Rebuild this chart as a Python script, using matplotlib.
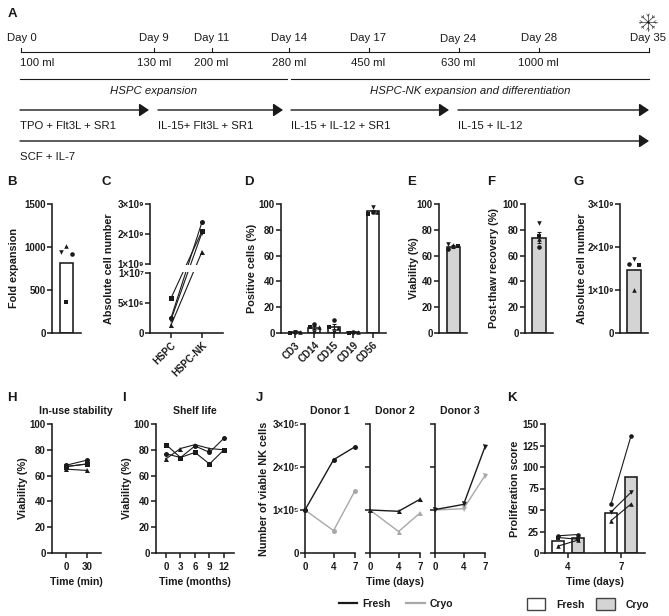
import numpy as np
from matplotlib import pyplot as plt
from matplotlib.lines import Line2D
from matplotlib.patches import Patch

W, H = 669, 616
DARK = '#1a1a1a'
GREY_BAR = '#d4d4d4'
GREY_LINE = '#a8a8a8'

plt.rcParams['font.family'] = ['Liberation Sans', 'DejaVu Sans']
plt.rcParams['font.size'] = 8
plt.rcParams['text.color'] = DARK
plt.rcParams['axes.labelcolor'] = DARK
plt.rcParams['xtick.color'] = DARK
plt.rcParams['ytick.color'] = DARK

# A: culture timeline
days = ['Day 0', 'Day 9', 'Day 11', 'Day 14', 'Day 17', 'Day 24', 'Day 28', 'Day 35']
volumes = ['100 ml', '130 ml', '200 ml', '280 ml', '450 ml', '630 ml', '1000 ml']
stage_labels = ['HSPC expansion', 'HSPC-NK expansion and differentiation']
cocktails = ['TPO + Flt3L + SR1', 'IL-15+ Flt3L + SR1', 'IL-15 + IL-12 + SR1', 'IL-15 + IL-12']
base_cocktail = 'SCF + IL-7'

# B
b_mean = 810
b_points = {'o': 920, 's': 365, '^': 1010, 'v': 945}

# C
c_groups = ['HSPC', 'HSPC-NK']
c_hspc = {'s': 5.8e6, 'o': 2.5e6, 'v': 2.2e6, '^': 1.3e6}
c_nk = {'s': 2.1e9, 'o': 2.4e9, 'v': 2.05e9, '^': 1.41e9}

# D
d_markers = ['CD3', 'CD14', 'CD15', 'CD19', 'CD56']
d_means = [0.5, 4.2, 5.0, 0.4, 94.2]
d_err = [0.2, 1.3, 2.0, 0.2, 1.2]
d_points = [
    {'o': 0.5, 's': 0.3, '^': 0.6, 'v': 0.4},
    {'o': 7.2, 's': 5.0, '^': 4.5, 'v': 0.5},
    {'o': 9.8, 's': 5.0, '^': 4.0, 'v': 0.5},
    {'o': 0.4, 's': 0.3, '^': 0.5, 'v': 0.3},
    {'o': 94.0, 's': 92.0, '^': 94.0, 'v': 97.4},
]

# E, F, G
e_mean, e_err = 67, 1.0
e_points = {'o': 65.5, 's': 67.5, '^': 68, 'v': 69}
f_mean, f_err = 74, 4.0
f_points = {'o': 67, 's': 75, '^': 73, 'v': 85}
g_mean = 1.47e9
g_points = {'o': 1.6e9, 's': 1.58e9, '^': 1.0e9, 'v': 1.72e9}

# H
h_minutes = [0, 30]
h_series = {'o': [68, 72], 's': [67, 69], 'v': [67, 69], '^': [65, 64]}

# I
i_months = [0, 3, 6, 9, 12]
i_series = {
    's': [84, 74, 78, 69, 80],
    'o': [77, 74, 83, 78, 89],
    '^': [73, 81, 84, 81, 80],
}

# J
j_days = [0, 4, 7]
j_donors = ['Donor 1', 'Donor 2', 'Donor 3']
j_symbols = ['o', '^', 'v']
j_fresh = [[1.0e5, 2.17e5, 2.47e5], [1.0e5, 0.97e5, 1.25e5], [1.01e5, 1.13e5, 2.47e5]]
j_cryo = [[1.0e5, 0.52e5, 1.45e5], [1.0e5, 0.50e5, 0.93e5], [1.0e5, 1.03e5, 1.80e5]]

# K
k_days = ['4', '7']
k_fresh_means = [14, 47]
k_cryo_means = [17, 88]
k_fresh = [{'o': 20, 's': 18, '^': 8}, {'o': 57, 'v': 47.7, '^': 37.6}]
k_cryo = [{'o': 21.5, 's': 16, '^': 15}, {'o': 136, 'v': 70.5, '^': 57}]

fig = plt.figure(figsize=(W / 100, H / 100), dpi=100)


def make_axes(left, right, top, bottom):
    ax = fig.add_axes([left / W, 1 - bottom / H, (right - left) / W, (bottom - top) / H])
    ax.spines[['top', 'right']].set_visible(False)
    ax.spines[['left', 'bottom']].set_linewidth(1.15)
    ax.spines[['left', 'bottom']].set_color(DARK)
    ax.tick_params(width=1.1, length=3.6, pad=0.8, labelsize=7)
    ax.tick_params(axis='x', pad=3)
    ax.patch.set_alpha(0)
    ax.px = (left, right)
    return ax


def bold_ticks(ax):
    for lab in ax.get_xticklabels() + ax.get_yticklabels():
        lab.set_fontweight('bold')


def set_ylabel(ax, text, px_center):
    ax.set_ylabel(text, fontsize=7.8, fontweight='bold')
    left, right = ax.px
    ax.yaxis.set_label_coords((px_center + 8 - left) / (right - left), 0.5)
    bold_ticks(ax)


def scatter_points(ax, x, points, offsets=None):
    for m, val in points.items():
        dx = offsets[m] if offsets else 0
        ax.plot(x + dx, val, m, color=DARK, ms=3.3, mew=0, clip_on=False, zorder=5)


def draw_panel_letter(letter, x, y):
    fig.text(x / W, 1 - y / H, letter, fontsize=9.5, fontweight='bold', ha='left', va='center')


def draw_timeline():
    ov = fig.add_axes([0, 0, 1, 1])
    ov.set_xlim(0, W)
    ov.set_ylim(H, 0)
    ov.axis('off')
    ov.patch.set_alpha(0)

    tick_x = [20.5, 154, 211.5, 289, 368.5, 458.5, 539, 648.5]
    ov.plot([tick_x[0], tick_x[-1]], [52, 52], color=DARK, lw=0.8)
    for i, (x, lab) in enumerate(zip(tick_x, days)):
        ov.plot([x, x], [48, 52], color=DARK, lw=0.8)
        tx = 22 if i == 0 else x
        ty = 39.5 if lab == 'Day 24' else 38
        ov.text(tx, ty, lab, ha='center', va='center', fontsize=8.2)
    vol_x = [37.5, 154, 211.5, 289, 368.5, 458, 538]
    for x, lab in zip(vol_x, volumes):
        ov.text(x, 63.5, lab, ha='center', va='center', fontsize=8.2)

    ov.plot([20, 287], [79, 79], color=DARK, lw=0.8)
    ov.plot([291, 649], [79, 79], color=DARK, lw=0.8)
    ov.text(154, 90.5, stage_labels[0], ha='center', va='center', style='italic', fontsize=8.2)
    ov.text(470, 90.5, stage_labels[1], ha='center', va='center', style='italic', fontsize=8.2)

    spans = [(20, 149), (158, 283), (291, 449), (458, 649)]
    style = '-|>,head_length=0.45,head_width=0.3'
    for (x0, x1), lab in zip(spans, cocktails):
        ov.annotate('', xy=(x1, 110), xytext=(x0, 110),
                    arrowprops=dict(arrowstyle=style, color=DARK, lw=1.0,
                                    mutation_scale=13, shrinkA=0, shrinkB=0))
        ov.text(x0, 126, lab, ha='left', va='center', fontsize=8.2)
    ov.annotate('', xy=(649, 141), xytext=(20, 141),
                arrowprops=dict(arrowstyle=style, color=DARK, lw=1.0,
                                mutation_scale=13, shrinkA=0, shrinkB=0))
    ov.text(20, 157, base_cocktail, ha='left', va='center', fontsize=8.2)

    # snowflake
    cx, cy = 648, 22
    for ang in np.arange(0, 360, 45):
        ca, sa = np.cos(np.radians(ang)), np.sin(np.radians(ang))
        ov.plot([cx, cx + 9 * ca], [cy, cy + 8.5 * sa], color='#333333', lw=0.5)
        for side in (-35, 35):
            cb, sb = np.cos(np.radians(ang + side)), np.sin(np.radians(ang + side))
            ov.plot([cx + 6 * ca, cx + 6 * ca + 2.5 * cb], [cy + 6 * sa, cy + 6 * sa + 2.5 * sb],
                    color='#333333', lw=0.4)
    ov.plot(cx, cy, 'o', color=DARK, ms=1.8, mew=0)


draw_timeline()

# B
ax = make_axes(52, 81, 204, 333)
ax.bar([0], [b_mean], width=13.7 / 29, facecolor='white', edgecolor=DARK, lw=1.15)
scatter_points(ax, 0, b_points, {'o': 0.18, 's': 0, '^': 0, 'v': -0.18})
ax.set_xlim(-0.5, 0.5)
ax.set_ylim(0, 1500)
ax.set_yticks([0, 500, 1000, 1500])
ax.set_xticks([])
set_ylabel(ax, 'Fold expansion', 11)

# C: broken axis, low part 0-1e7 and high part 1e9-3e9
LOW_PX, GAP_PX, HIGH_PX = 60, 9, 60


def c_forward(v):
    v = np.asarray(v, dtype=float)
    return np.where(v <= 1e7, v / 1e7 * LOW_PX,
                    np.where(v <= 1e9, LOW_PX + (v - 1e7) / (1e9 - 1e7) * GAP_PX,
                             LOW_PX + GAP_PX + (v - 1e9) / 2e9 * HIGH_PX))


def c_inverse(p):
    p = np.asarray(p, dtype=float)
    return np.where(p <= LOW_PX, p / LOW_PX * 1e7,
                    np.where(p <= LOW_PX + GAP_PX, 1e7 + (p - LOW_PX) / GAP_PX * (1e9 - 1e7),
                             1e9 + (p - LOW_PX - GAP_PX) / HIGH_PX * 2e9))


ax = make_axes(150, 223, 204, 333)
ax.set_yscale('function', functions=(c_forward, c_inverse))
ax.set_ylim(0, 3e9)
ax.set_xlim(-21 / 31, 52 / 31)
for m in c_hspc:
    ax.plot([0, 1], [c_hspc[m], c_nk[m]], '-', marker=m, color=DARK, lw=0.8, ms=3.6, mew=0, clip_on=False)
ax.set_yticks([0, 5e6, 1e7, 1e9, 2e9, 3e9])
ax.set_yticklabels(['0', '5×10⁶', '1×10⁷', '1×10⁹', '2×10⁹', '3×10⁹'])
ax.minorticks_off()
ax.axhspan(1.05e8, 9.1e8, xmin=-0.03, xmax=1, facecolor='white', edgecolor='none', zorder=4, clip_on=False)
ax.set_xticks([0, 1])
ax.set_xticklabels(c_groups, rotation=45, ha='right', rotation_mode='anchor')
ax.tick_params(axis='x', pad=1.5)
set_ylabel(ax, 'Absolute cell number', 106)

# D
ax = make_axes(281, 386, 204, 333)
x_d = np.arange(len(d_markers))
ax.bar(x_d, d_means, width=0.62, facecolor='white', edgecolor=DARK, lw=1.15)
ax.errorbar(x_d, d_means, yerr=d_err, fmt='none', ecolor=DARK, elinewidth=0.8, capsize=1.5, capthick=0.8)
for x, pts in zip(x_d, d_points):
    scatter_points(ax, x, pts, {'o': 0, 's': -0.24, '^': 0.24, 'v': 0})
ax.set_xlim(-14 / 19.4, 91 / 19.4)
ax.set_ylim(0, 100)
ax.set_yticks(range(0, 101, 20))
ax.set_xticks(x_d)
ax.set_xticklabels(d_markers, rotation=45, ha='right', rotation_mode='anchor')
ax.tick_params(axis='x', pad=1.5)
set_ylabel(ax, 'Positive cells (%)', 249)

# E
ax = make_axes(439, 467, 204, 333)
ax.bar([0], [e_mean], width=13 / 28, facecolor=GREY_BAR, edgecolor=DARK, lw=1.15)
ax.errorbar([0], [e_mean], yerr=[e_err], fmt='none', ecolor=DARK, elinewidth=0.8, capsize=1.5, capthick=0.8)
scatter_points(ax, 0, e_points, {'o': -0.17, 's': 0.17, '^': 0, 'v': -0.17})
ax.set_xlim(-0.5, 0.5)
ax.set_ylim(0, 100)
ax.set_yticks(range(0, 101, 20))
ax.set_xticks([])
set_ylabel(ax, 'Viability (%)', 411)

# F
ax = make_axes(525, 553, 204, 333)
ax.bar([0], [f_mean], width=13.5 / 28, facecolor=GREY_BAR, edgecolor=DARK, lw=1.15)
ax.errorbar([0], [f_mean], yerr=[f_err], fmt='none', ecolor=DARK, elinewidth=0.8, capsize=1.5, capthick=0.8)
scatter_points(ax, 0, f_points)
ax.set_xlim(-0.5, 0.5)
ax.set_ylim(0, 100)
ax.set_yticks(range(0, 101, 20))
ax.set_xticks([])
set_ylabel(ax, 'Post-thaw recovery (%)', 491)

# G
ax = make_axes(620, 648, 204, 333)
ax.bar([0], [g_mean], width=13.5 / 28, facecolor=GREY_BAR, edgecolor=DARK, lw=1.15)
scatter_points(ax, 0, g_points, {'o': -0.18, 's': 0.18, '^': 0, 'v': 0})
ax.set_xlim(-0.5, 0.5)
ax.set_ylim(0, 3e9)
ax.set_yticks([0, 1e9, 2e9, 3e9])
ax.set_yticklabels(['0', '1×10⁹', '2×10⁹', '3×10⁹'])
ax.set_xticks([])
set_ylabel(ax, 'Absolute cell number', 579)

# H
ax = make_axes(52, 101, 424, 553)
for m, vals in h_series.items():
    ax.plot(h_minutes, vals, '-', marker=m, color=DARK, lw=0.8, ms=3.6, mew=0)
ax.set_xlim(-20, 50)
ax.set_ylim(0, 100)
ax.set_yticks(range(0, 101, 20))
ax.set_xticks(h_minutes)
ax.set_title('In-use stability', fontsize=7.6, fontweight='bold', x=0.49, pad=7)
ax.set_xlabel('Time (min)', fontsize=7.6, fontweight='bold', labelpad=3.5)
set_ylabel(ax, 'Viability (%)', 20)

# I
ax = make_axes(156, 234, 424, 553)
for m, vals in i_series.items():
    ax.plot(i_months, vals, '-', marker=m, color=DARK, lw=0.8, ms=3.6, mew=0)
ax.set_xlim(-10 / 4.83, 68 / 4.83)
ax.set_ylim(0, 100)
ax.set_yticks(range(0, 101, 20))
ax.set_xticks(i_months)
ax.set_title('Shelf life', fontsize=7.6, fontweight='bold', pad=7)
ax.set_xlabel('Time (months)', fontsize=7.6, fontweight='bold', labelpad=3.5)
set_ylabel(ax, 'Viability (%)', 124)

# J
j_lefts = [305, 370, 435]
for i, left in enumerate(j_lefts):
    ax = make_axes(left, left + 50, 424, 553)
    ax.plot(j_days, j_cryo[i], '-', marker=j_symbols[i], color=GREY_LINE, lw=1.0, ms=3.6, mew=0, clip_on=False)
    ax.plot(j_days, j_fresh[i], '-', marker=j_symbols[i], color=DARK, lw=1.0, ms=3.6, mew=0, clip_on=False)
    ax.set_xlim(0, 7)
    ax.set_ylim(0, 3e5)
    ax.set_xticks(j_days)
    ax.set_yticks([0, 1e5, 2e5, 3e5])
    ax.set_title(j_donors[i], fontsize=7.6, fontweight='bold', pad=7)
    if i == 0:
        ax.set_yticklabels(['0', '1×10⁵', '2×10⁵', '3×10⁵'])
        set_ylabel(ax, 'Number of viable NK cells', 261)
    else:
        ax.set_yticklabels([])
        bold_ticks(ax)
    if i == 1:
        ax.set_xlabel('Time (days)', fontsize=7.6, fontweight='bold', labelpad=3.5)

fig.legend(handles=[Line2D([], [], color=DARK, lw=1.6), Line2D([], [], color=GREY_LINE, lw=1.6)],
           labels=['Fresh', 'Cryo'], loc='center', bbox_to_anchor=(396 / W, 1 - 604 / H), ncol=2,
           frameon=False, handlelength=1.8, handletextpad=0.5, columnspacing=1.45,
           prop={'size': 7.5, 'weight': 'bold'})

# K
ax = make_axes(545, 645, 424, 553)
x_k = np.arange(len(k_days))
bar_off = 10 / 53
bar_w = 12.7 / 53
ax.bar(x_k - bar_off, k_fresh_means, width=bar_w, facecolor='white', edgecolor=DARK, lw=1.15)
ax.bar(x_k + bar_off, k_cryo_means, width=bar_w, facecolor=GREY_BAR, edgecolor=DARK, lw=1.15)
for x, fresh, cryo in zip(x_k, k_fresh, k_cryo):
    for m in fresh:
        ax.plot([x - bar_off, x + bar_off], [fresh[m], cryo[m]], '-', color=DARK, lw=0.8, zorder=4)
    scatter_points(ax, x - bar_off, fresh)
    scatter_points(ax, x + bar_off, cryo)
ax.set_xlim(-23 / 53, 77 / 53)
ax.set_ylim(0, 150)
ax.set_yticks(range(0, 151, 25))
ax.set_xticks(x_k)
ax.set_xticklabels(k_days)
ax.set_xlabel('Time (days)', fontsize=7.6, fontweight='bold', labelpad=3.5)
set_ylabel(ax, 'Proliferation score', 512)

fig.legend(handles=[Patch(facecolor='white', edgecolor='#444444', lw=1.0),
                    Patch(facecolor=GREY_BAR, edgecolor='#444444', lw=1.0)],
           labels=['Fresh', 'Cryo'], loc='center', bbox_to_anchor=(588 / W, 1 - 604 / H), ncol=2,
           frameon=False, handlelength=1.75, handleheight=1.25, handletextpad=1.05, columnspacing=1.15,
           prop={'size': 7.5, 'weight': 'bold'})

for letter, x, y in [('A', 8, 14), ('B', 7, 182), ('C', 102, 182), ('D', 244, 182),
                     ('E', 407, 182), ('F', 487, 182), ('G', 573, 182),
                     ('H', 7, 398), ('I', 122, 398), ('J', 256, 398), ('K', 507, 398)]:
    draw_panel_letter(letter, x, y)

fig.savefig('out.png', dpi=100)
